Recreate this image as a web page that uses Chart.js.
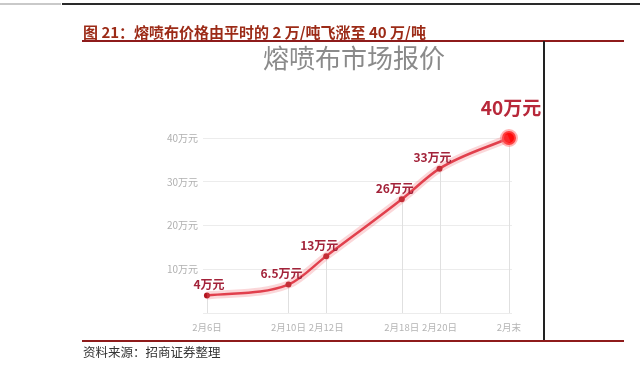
<!DOCTYPE html>
<html><head><meta charset="utf-8">
<script src="https://cdn.jsdelivr.net/npm/chart.js@4"></script>
<style>
html,body{margin:0;padding:0;background:#fff;}
#wrap{position:relative;width:640px;height:375px;overflow:hidden;font-family:"Noto Sans CJK SC","Noto Sans",sans-serif;}
canvas{position:absolute;left:0;top:0;}
.abs{position:absolute;white-space:nowrap;}
</style></head><body>
<div id="wrap">
<canvas id="c" width="640" height="375"></canvas>
<div class="abs" style="left:0;top:3px;width:61px;height:2px;background:#c9c9c9"></div>
<div class="abs" style="left:62px;top:3px;width:578px;height:2px;background:#2a2a2a"></div>
<div class="abs" id="title" style="left:83px;top:23px;font-size:15px;line-height:17px;font-weight:bold;color:#9c2b17;">图 21：熔喷布价格由平时的 2 万/吨飞涨至 40 万/吨</div>
<div class="abs" style="left:82px;top:40px;width:542px;height:2px;background:#8e1b1b"></div>
<div class="abs" style="left:543px;top:41px;width:2px;height:299px;background:#222"></div>
<div class="abs" style="left:263px;top:43px;font-size:26px;line-height:28px;color:#8a8a8a;">熔喷布市场报价</div>
<div class="abs" style="left:82px;top:340px;width:542px;height:2px;background:#8e1b1b"></div>
<div class="abs" style="left:83px;top:344px;font-size:12.5px;line-height:16px;color:#333;">资料来源：招商证券整理</div>
</div>
<script>
// ---- data ----
const dateLabels = ['2月6日', '2月10日', '2月12日', '2月18日', '2月20日', '2月末'];
const xSlots = [0, 2.7, 3.95, 6.45, 7.7, 10];   // horizontal placement of each date
const prices = [4, 6.5, 13, 26, 33, 40];          // 万元/吨
const priceLabels = ['4万元', '6.5万元', '13万元', '26万元', '33万元', '40万元'];
const yTicks = [0, 10, 20, 30, 40];

const pts = xSlots.map((x, i) => ({x: x, y: prices[i]}));

const labelPlugin = {
  id: 'labelPlugin',
  beforeDatasetsDraw(chart) {
    const ctx = chart.ctx, meta = chart.getDatasetMeta(1), bottom = chart.chartArea.bottom;
    ctx.save();
    ctx.strokeStyle = '#e0e0e0';
    ctx.lineWidth = 1;
    meta.data.forEach(p => {
      ctx.beginPath();
      ctx.moveTo(Math.round(p.x) + 0.5, p.y);
      ctx.lineTo(Math.round(p.x) + 0.5, bottom);
      ctx.stroke();
    });
    ctx.restore();
  },
  afterDatasetsDraw(chart) {
    const ctx = chart.ctx, meta = chart.getDatasetMeta(1);
    ctx.save();
    ctx.textAlign = 'center';
    ctx.textBaseline = 'middle';
    meta.data.forEach((p, i) => {
      const last = i === meta.data.length - 1;
      if (last) {
        ctx.font = 'bold 19px "Noto Sans CJK SC"';
        ctx.fillStyle = '#b8283a';
        ctx.fillText(priceLabels[i], p.x + 2, p.y - 30);
      } else {
        ctx.font = 'bold 12px "Noto Sans CJK SC"';
        ctx.fillStyle = '#a3233a';
        const dx = i === 0 ? 2 : -7;
        ctx.fillText(priceLabels[i], p.x + dx, p.y - 11);
      }
    });
    ctx.restore();
  }
};

new Chart(document.getElementById('c'), {
  type: 'line',
  data: {
    datasets: [
      {
        data: pts, borderColor: 'rgba(240,110,120,0.28)', borderWidth: 8,
        pointRadius: 0, cubicInterpolationMode: 'monotone', clip: false
      },
      {
        data: pts, borderColor: '#dc2f3e', borderWidth: 2.5,
        cubicInterpolationMode: 'monotone', clip: false,
        pointRadius: prices.map((v, i) => i === prices.length - 1 ? 7 : 3),
        pointBackgroundColor: prices.map((v, i) => i === prices.length - 1 ? '#ff0a0a' : '#b3141e'),
        pointBorderColor: prices.map((v, i) => i === prices.length - 1 ? 'rgba(255,110,110,0.5)' : '#b3141e'),
        pointBorderWidth: prices.map((v, i) => i === prices.length - 1 ? 4 : 0)
      }
    ]
  },
  options: {
    responsive: false,
    animation: false,
    events: [],
    layout: {padding: {left: 0, right: 128, top: 138, bottom: 32}},
    plugins: {legend: {display: false}, tooltip: {enabled: false}},
    scales: {
      x: {
        type: 'linear', min: -0.13, max: 10.1,
        afterBuildTicks: (axis) => { axis.ticks = xSlots.map(v => ({value: v})); },
        afterFit: (s) => { s.height = 30; },
        grid: {display: false}, border: {display: false},
        ticks: {
          autoSkip: false, maxRotation: 0, padding: 1,
          color: '#b4b4b4', font: {family: '"Noto Sans CJK SC"', size: 9.5},
          callback: (v, i) => dateLabels[i]
        }
      },
      y: {
        min: 0, max: 40,
        afterBuildTicks: (axis) => { axis.ticks = yTicks.map(v => ({value: v})); },
        afterFit: (s) => { s.width = 203; },
        grid: {color: '#ececec', drawTicks: false, lineWidth: 1},
        border: {display: false},
        ticks: {
          padding: 5, color: '#b0b0b0', font: {family: '"Noto Sans CJK SC"', size: 10},
          callback: (v) => v === 0 ? '' : v + '万元'
        }
      }
    }
  },
  plugins: [labelPlugin]
});
</script>
</body></html>
